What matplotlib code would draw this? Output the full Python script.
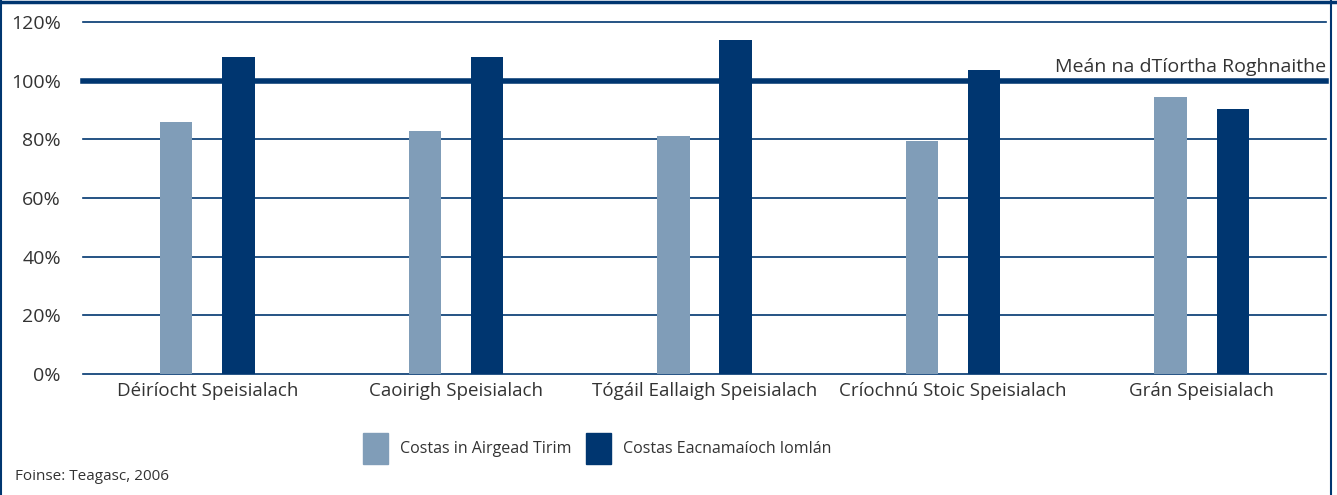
import matplotlib
matplotlib.use("Agg")
import matplotlib.pyplot as plt
from matplotlib.patches import Rectangle
from matplotlib.lines import Line2D
import numpy as np

plt.rcParams['font.family'] = ['Open Sans', 'DejaVu Sans']

categories = ["Déiríocht Speisialach", "Caoirigh Speisialach", "Tógáil Eallaigh Speisialach",
              "Críochnú Stoic Speisialach", "Grán Speisialach"]
cash_costs = [86, 83, 81, 79.5, 94.5]
economic_costs = [108, 108, 114, 103.5, 90.5]
series_names = ["Costas in Airgead Tirim", "Costas Eacnamaíoch Iomlán"]
yticks = [0, 20, 40, 60, 80, 100, 120]
avg_level = 100
avg_label = "Meán na dTíortha Roghnaithe"
source = "Foinse: Teagasc, 2006"

light = "#809db8"
dark = "#003670"
text_col = "#333333"

W, H = 1337, 495
fig = plt.figure(figsize=(W / 100, H / 100), dpi=100)
ax = fig.add_axes([83 / W, 121 / H, (1326 - 83) / W, (374 - 22) / H])

x = np.arange(len(categories))
ax.bar(x - 0.125, cash_costs, width=0.13, color=light, zorder=3)
ax.bar(x + 0.125, economic_costs, width=0.13, color=dark, zorder=3)

for t in yticks:
    lw = 4 if t == avg_level else 1.2
    ax.axhline(t, color=dark, lw=lw, zorder=1, clip_on=False)

ax.text(4.5, avg_level + 1.5, avg_label, ha="right", va="bottom",
        fontsize=14, color=text_col)

ax.set_xlim(-0.5, 4.5)
ax.set_ylim(0, 120)
ax.set_yticks(yticks)
ax.set_yticklabels([f"{t}%" for t in yticks], fontsize=14, color=text_col)
ax.set_xticks(x)
ax.set_xticklabels(categories, fontsize=13.5, color=text_col)
ax.tick_params(axis="y", length=0, pad=16)
ax.tick_params(axis="x", length=0, pad=6)
for s in ax.spines.values():
    s.set_visible(False)

# legend drawn by hand below the axes
def fig_rect(x0, y0, w, h, c):
    fig.add_artist(Rectangle((x0 / W, 1 - (y0 + h) / H), w / W, h / H,
                             transform=fig.transFigure, color=c))

fig_rect(363, 433, 25, 31, light)
fig.text(400 / W, 1 - 449 / H, series_names[0], fontsize=11.5, color=text_col, va="center")
fig_rect(586, 433, 25, 31, dark)
fig.text(623 / W, 1 - 449 / H, series_names[1], fontsize=11.5, color=text_col, va="center")

fig.text(15 / W, 1 - 477 / H, source, fontsize=11, color=text_col, va="center")

# frame: thick top edge, thin sides
fig.add_artist(Line2D([0, 1], [1 - 1.5 / H, 1 - 1.5 / H], transform=fig.transFigure, color=dark, lw=2.5))
fig.add_artist(Line2D([1 / W, 1 / W], [0, 1], transform=fig.transFigure, color=dark, lw=1.5))
fig.add_artist(Line2D([1331 / W, 1331 / W], [0, 1], transform=fig.transFigure, color=dark, lw=1.5))

fig.savefig("out.png", dpi=100)
